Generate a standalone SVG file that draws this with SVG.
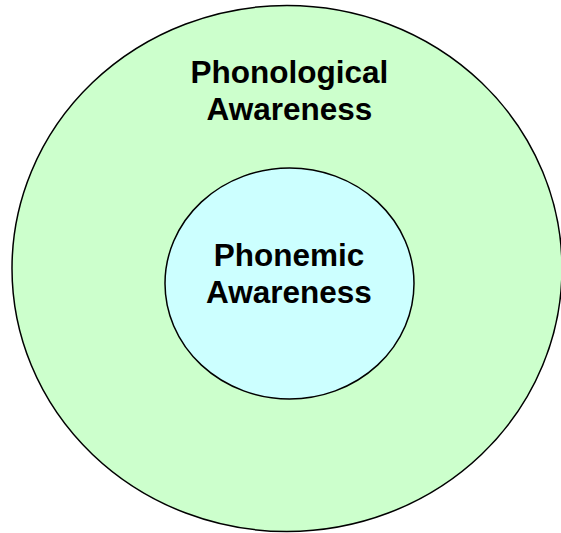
<svg xmlns="http://www.w3.org/2000/svg" width="561" height="533" viewBox="0 0 561 533">
<style>
.lbl{font-family:"Liberation Sans",Arial,sans-serif;font-weight:bold;font-size:31.5px;fill:#000;text-anchor:middle}
.ring{stroke:#000;stroke-width:1.5}
</style>
<rect width="561" height="533" fill="#fff"/>
<g id="phonological">
<ellipse class="ring" cx="287" cy="268.5" rx="275" ry="263" fill="#ccffcc"/>
<text class="lbl" x="289.5" y="83">Phonological</text>
<text class="lbl" x="289.5" y="119.5">Awareness</text>
</g>
<g id="phonemic">
<ellipse class="ring" cx="289.5" cy="283.5" rx="124.5" ry="115.5" fill="#ccffff"/>
<text class="lbl" x="289" y="266">Phonemic</text>
<text class="lbl" x="289" y="302.5">Awareness</text>
</g>
<g id="connectors"/>
</svg>
